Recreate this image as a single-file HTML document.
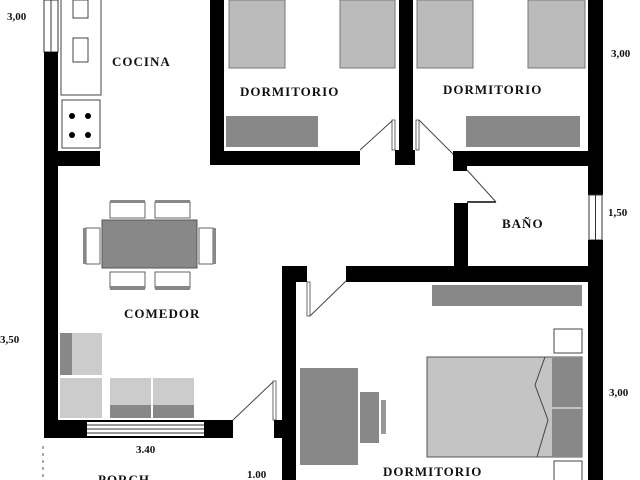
<!DOCTYPE html>
<html><head><style>
html,body{margin:0;padding:0;background:#fff;width:640px;height:480px;overflow:hidden}
svg{display:block}
text{font-family:"Liberation Serif",serif;font-weight:bold;fill:#111;letter-spacing:1px}
</style></head><body>
<svg width="640" height="480" viewBox="0 0 640 480" xmlns="http://www.w3.org/2000/svg">
<rect width="640" height="480" fill="#fff"/>
<!-- left window top -->
<rect x="44" y="0" width="14" height="52" fill="#fff" stroke="#333" stroke-width="1"/>
<line x1="51" y1="0" x2="51" y2="52" stroke="#333"/>
<!-- left wall -->
<rect x="44" y="52" width="14" height="386" fill="#000"/>
<!-- kitchen -->
<rect x="61" y="-2" width="40" height="97" fill="#fff" stroke="#444"/>
<rect x="73" y="0" width="15" height="18" fill="#fff" stroke="#444"/>
<rect x="73" y="38" width="15" height="24" fill="#fff" stroke="#444"/>
<rect x="62" y="100" width="38" height="48" fill="#fff" stroke="#444"/>
<circle cx="72" cy="116" r="3"/><circle cx="88" cy="116" r="3"/>
<circle cx="72" cy="135" r="3"/><circle cx="88" cy="135" r="3"/>
<rect x="58" y="151" width="42" height="15" fill="#000"/>
<!-- dorm1 -->
<rect x="210" y="0" width="14" height="165" fill="#000"/>
<rect x="210" y="151" width="150" height="14" fill="#000"/>
<rect x="229" y="0" width="56" height="68" fill="#bbb" stroke="#777"/>
<rect x="340" y="0" width="55" height="68" fill="#bbb" stroke="#777"/>
<rect x="226" y="116" width="92" height="31" fill="#888"/>
<line x1="360" y1="150" x2="393" y2="120" stroke="#444"/>
<rect x="392" y="120" width="3" height="30" fill="#fff" stroke="#444" stroke-width="0.8"/>
<!-- middle wall -->
<rect x="399" y="0" width="14" height="165" fill="#000"/>
<rect x="395" y="150" width="20" height="15" fill="#000"/>
<rect x="416" y="120" width="3" height="30" fill="#fff" stroke="#444" stroke-width="0.8"/>
<line x1="419" y1="120" x2="467" y2="168" stroke="#444"/>
<!-- dorm2 -->
<rect x="417" y="0" width="56" height="68" fill="#bbb" stroke="#777"/>
<rect x="528" y="0" width="57" height="68" fill="#bbb" stroke="#777"/>
<rect x="466" y="116" width="114" height="31" fill="#888"/>
<rect x="453" y="151" width="150" height="15" fill="#000"/>
<rect x="453" y="151" width="14" height="20" fill="#000"/>
<!-- right wall -->
<rect x="588" y="0" width="15" height="195" fill="#000"/>
<rect x="589" y="195" width="13" height="45" fill="#fff" stroke="#333"/>
<line x1="595.5" y1="195" x2="595.5" y2="240" stroke="#333"/>
<rect x="588" y="240" width="15" height="240" fill="#000"/>
<!-- bath -->
<line x1="467" y1="170" x2="496" y2="202" stroke="#444"/>
<line x1="467" y1="202" x2="496" y2="202" stroke="#444" stroke-width="2"/>
<rect x="454" y="203" width="14" height="65" fill="#000"/>
<rect x="346" y="266" width="257" height="16" fill="#000"/>
<!-- bedroom left wall -->
<rect x="282" y="266" width="14" height="214" fill="#000"/>
<rect x="282" y="266" width="25" height="16" fill="#000"/>
<rect x="307" y="282" width="3" height="34" fill="#fff" stroke="#444" stroke-width="0.8"/>
<line x1="310" y1="316" x2="346" y2="281" stroke="#444"/>
<!-- comedor bottom wall -->
<rect x="44" y="420" width="189" height="18" fill="#000"/>
<rect x="87" y="422" width="117" height="14" fill="#fff"/>
<line x1="87" y1="425" x2="204" y2="425" stroke="#333"/>
<line x1="87" y1="429" x2="204" y2="429" stroke="#333"/>
<line x1="87" y1="433" x2="204" y2="433" stroke="#333"/>
<line x1="233" y1="420" x2="274" y2="381" stroke="#444"/>
<rect x="273" y="381" width="3" height="39" fill="#fff" stroke="#444" stroke-width="0.8"/>
<rect x="274" y="420" width="10" height="18" fill="#000"/>
<!-- dining -->
<rect x="102" y="220" width="95" height="48" fill="#888" stroke="#555"/>
<rect x="110" y="202" width="35" height="16" fill="#fff" stroke="#666"/><rect x="110" y="200" width="35" height="3" fill="#888"/>
<rect x="155" y="202" width="35" height="16" fill="#fff" stroke="#666"/><rect x="155" y="200" width="35" height="3" fill="#888"/>
<rect x="110" y="272" width="35" height="16" fill="#fff" stroke="#666"/><rect x="110" y="286" width="35" height="4" fill="#888"/>
<rect x="155" y="272" width="35" height="16" fill="#fff" stroke="#666"/><rect x="155" y="286" width="35" height="4" fill="#888"/>
<rect x="86" y="228" width="14" height="36" fill="#fff" stroke="#666"/><rect x="83" y="228" width="3" height="36" fill="#888"/>
<rect x="199" y="228" width="14" height="36" fill="#fff" stroke="#666"/><rect x="213" y="228" width="3" height="36" fill="#888"/>
<!-- sofa -->
<rect x="60" y="333" width="42" height="42" fill="#ccc"/>
<rect x="60" y="333" width="12" height="42" fill="#888"/>
<rect x="60" y="378" width="42" height="40" fill="#ccc"/>
<rect x="110" y="378" width="84" height="40" fill="#ccc"/>
<rect x="110" y="405" width="84" height="13" fill="#888"/>
<line x1="152" y1="378" x2="152" y2="418" stroke="#fff" stroke-width="2"/>
<!-- bedroom -->
<rect x="432" y="285" width="150" height="21" fill="#888"/>
<rect x="554" y="329" width="28" height="24" fill="#fff" stroke="#444"/>
<rect x="554" y="461" width="28" height="24" fill="#fff" stroke="#444"/>
<rect x="427" y="357" width="155" height="100" fill="#c4c4c4" stroke="#555"/>
<rect x="552" y="358" width="30" height="49" fill="#888"/>
<rect x="552" y="409" width="30" height="48" fill="#888"/>
<polyline points="545,357 535,385 548,420 537,457" fill="none" stroke="#444"/>
<rect x="300" y="368" width="58" height="97" fill="#888"/>
<rect x="360" y="392" width="19" height="51" fill="#888"/>
<rect x="381" y="400" width="5" height="34" fill="#999"/>
<!-- dashed -->
<line x1="43" y1="446" x2="43" y2="480" stroke="#555" stroke-dasharray="3,4"/>
<!-- labels -->
<text x="112" y="66" font-size="13">COCINA</text>
<text x="240" y="96" font-size="13">DORMITORIO</text>
<text x="443" y="94" font-size="13">DORMITORIO</text>
<text x="502" y="228" font-size="13">BAÑO</text>
<text x="124" y="318" font-size="13">COMEDOR</text>
<text x="383" y="476" font-size="13">DORMITORIO</text>
<text x="98" y="484" font-size="13">PORCH</text>
<text x="7" y="20" font-size="11" style="letter-spacing:0">3,00</text>
<text x="611" y="57" font-size="11" style="letter-spacing:0">3,00</text>
<text x="608" y="216" font-size="11" style="letter-spacing:0">1,50</text>
<text x="0" y="343" font-size="11" style="letter-spacing:0">3,50</text>
<text x="609" y="396" font-size="11" style="letter-spacing:0">3,00</text>
<text x="136" y="453" font-size="11" style="letter-spacing:0">3.40</text>
<text x="247" y="478" font-size="11" style="letter-spacing:0">1.00</text>
</svg>
</body></html>
